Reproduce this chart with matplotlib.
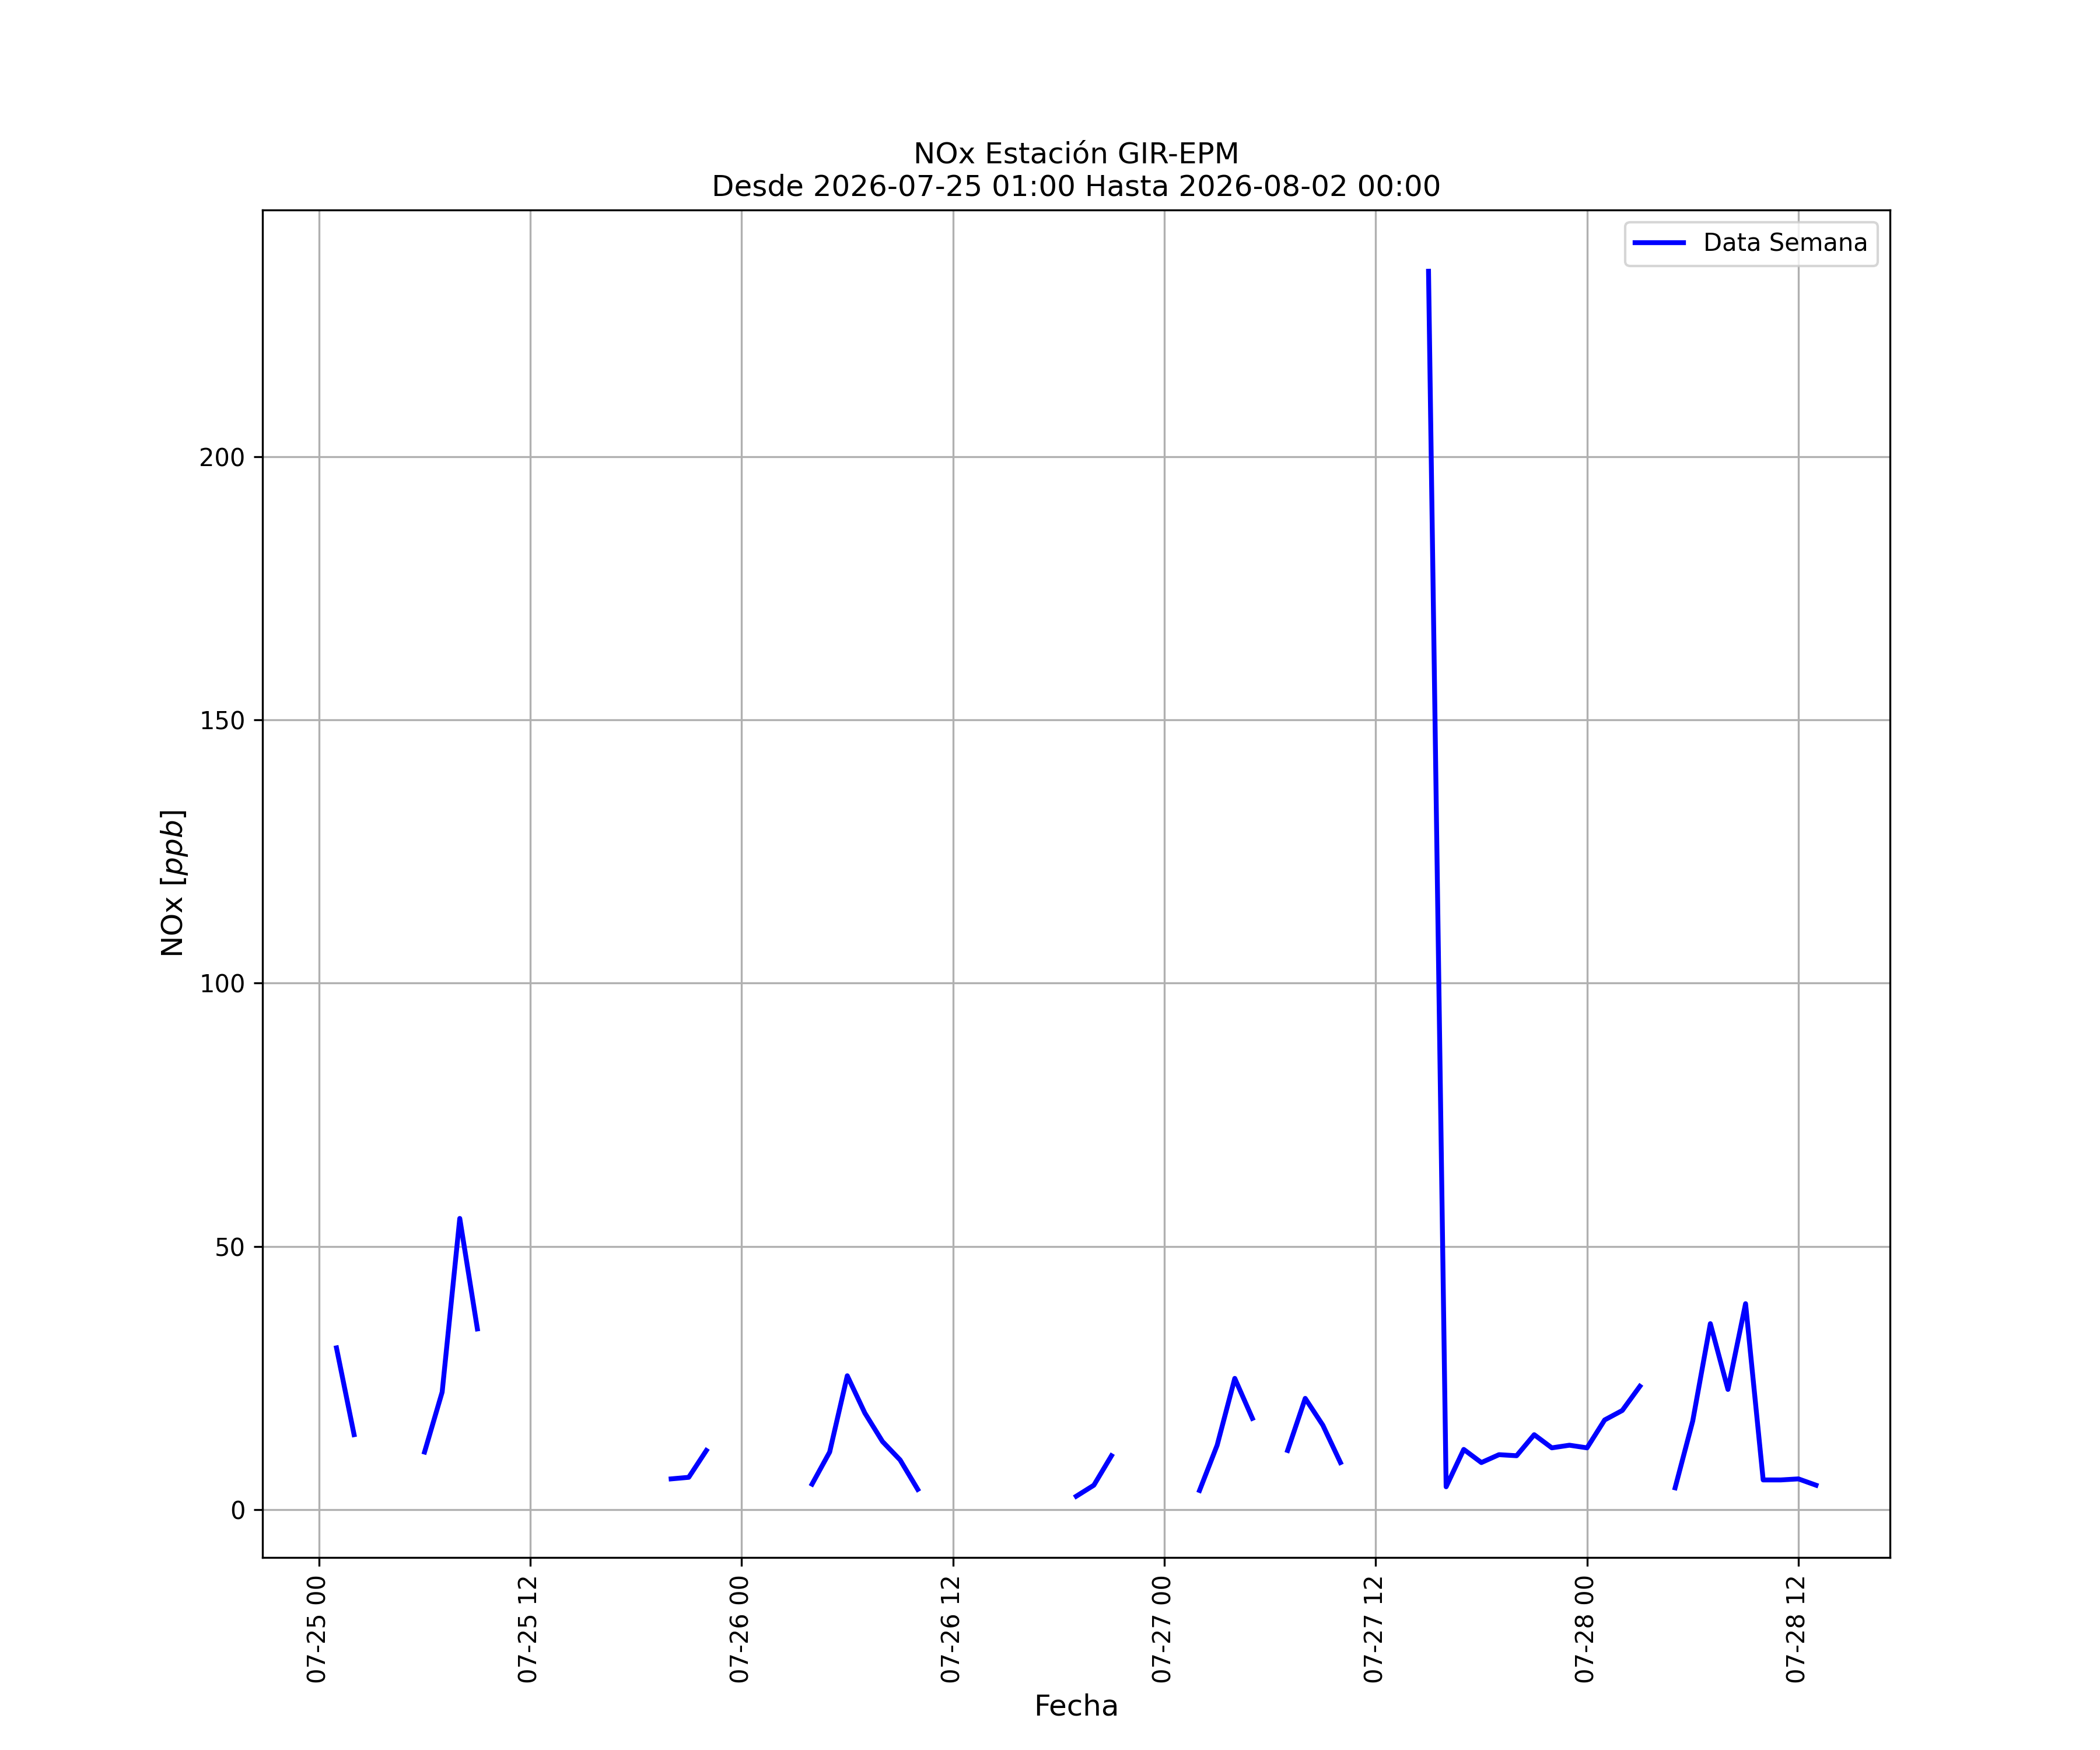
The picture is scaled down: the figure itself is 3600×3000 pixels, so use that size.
import numpy as np
import pandas as pd
import matplotlib
matplotlib.use('Agg')
import matplotlib.pyplot as plt
import matplotlib.dates as mdates

# hourly NOx values from 2026-07-25 01:00, NaN where the station had no data
nox = [30.7, 14.2, np.nan, np.nan, np.nan, 10.9, 22.3, 55.3, 34.3,
       np.nan, np.nan, np.nan, np.nan, np.nan, np.nan, np.nan, np.nan, np.nan, np.nan,
       5.8, 6.1, 11.2,
       np.nan, np.nan, np.nan, np.nan, np.nan,
       4.8, 10.9, 25.4, 18.3, 12.9, 9.4, 3.8,
       np.nan, np.nan, np.nan, np.nan, np.nan, np.nan, np.nan, np.nan,
       2.5, 4.6, 10.2,
       np.nan, np.nan, np.nan, np.nan,
       3.6, 12.2, 24.9, 17.3,
       np.nan,
       11.2, 21.1, 16.0, 8.9,
       np.nan, np.nan, np.nan, np.nan,
       235.3, 4.3, 11.4, 8.9, 10.4, 10.2, 14.2, 11.7, 12.2, 11.7, 17.0, 18.8, 23.4,
       np.nan,
       4.1, 16.8, 35.3, 22.8, 39.1, 5.6, 5.6, 5.8, 4.6]
fechas = pd.date_range('2026-07-25 01:00', periods=len(nox), freq='h')

titulo = 'NOx Estación GIR-EPM\nDesde 2026-07-25 01:00 Hasta 2026-08-02 00:00'


def main():
	fig, ax = plt.subplots(figsize=(12, 10), dpi=300)
	ax.plot(fechas, nox, color='b', lw=2, label='Data Semana')
	ax.set_title(titulo, fontsize=12)
	ax.set_xlabel('Fecha', fontsize=12)
	ax.set_ylabel('NOx [$ppb$]', fontsize=12)
	ax.xaxis.set_major_locator(mdates.HourLocator(byhour=[0, 12]))
	ax.xaxis.set_major_formatter(mdates.DateFormatter('%m-%d %H'))
	plt.setp(ax.get_xticklabels(), rotation=90)
	ax.grid(True)
	ax.legend(loc='upper right')
	fig.savefig('out.png', dpi=300)


if __name__ == "__main__":
	main()
